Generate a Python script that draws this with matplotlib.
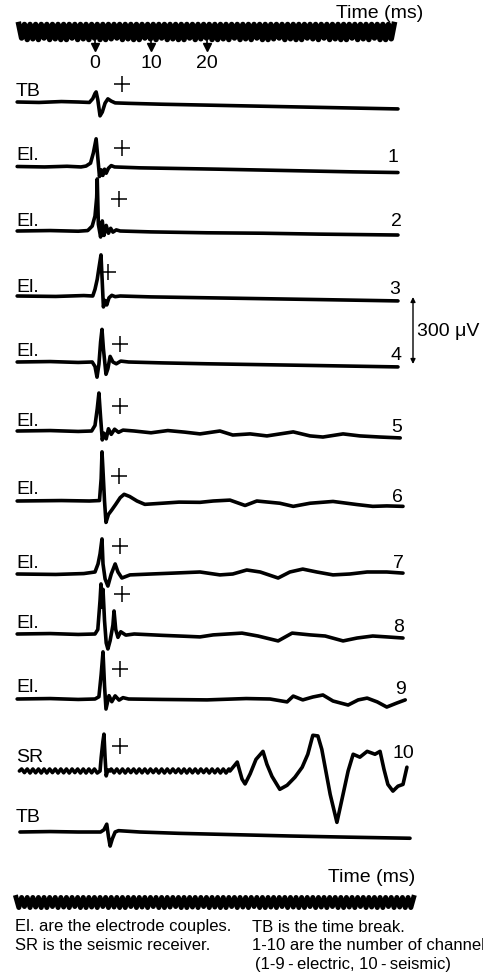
import matplotlib.pyplot as plt
import numpy as np

plt.rcParams["font.family"] = ["Liberation Sans", "DejaVu Sans"]

# ---------------- data ----------------
# 1 kHz timing clock: one cycle per ms, relative depth of every trough
clock_period_ms = 1.0
clock_top_start_ms = -13.6
clock_top_depth = [
    0.9, 1.0, 0.95, 1.0, 0.9, 1.0, 0.95, 1.0, 1.0, 0.9,
    1.0, 0.95, 1.0, 0.9, 1.0, 1.0, 0.95, 0.9, 1.0, 0.95,
    1.0, 1.0, 0.9, 0.95, 1.0, 0.9, 1.0, 0.95, 1.0, 1.0,
    0.9, 1.0, 0.95, 0.9, 1.0, 1.0, 0.95, 1.0, 0.9, 1.0,
    0.95, 1.0, 0.9, 1.0, 1.0, 0.95, 0.9, 1.0, 0.95, 1.0,
    1.0, 0.9, 0.95, 1.0, 0.9, 1.0, 0.95, 1.0, 1.0, 0.9,
    1.0, 0.95, 1.0, 0.9, 1.0, 1.0, 0.95,
]
clock_bottom_start_ms = -14.1
clock_bottom_depth = [
    1.0, 0.9, 1.0, 0.95, 1.0, 1.0, 0.9, 1.0, 0.95, 1.0,
    0.9, 1.0, 1.0, 0.95, 1.0, 0.9, 1.0, 0.95, 1.0, 1.0,
    0.9, 1.0, 0.95, 1.0, 0.9, 1.0, 1.0, 0.95, 0.9, 1.0,
    1.0, 0.95, 1.0, 0.9, 1.0, 0.95, 1.0, 1.0, 0.9, 1.0,
    0.95, 1.0, 0.9, 1.0, 1.0, 0.95, 1.0, 0.9, 1.0, 0.95,
    1.0, 1.0, 0.9, 1.0, 0.95, 1.0, 0.9, 1.0, 1.0, 0.95,
    1.0, 0.9, 1.0, 0.95, 1.0, 1.0, 0.9, 1.0, 0.95, 1.0,
    1.0,
]
time_marks_ms = [0, 10, 20]

# traces: time (ms) and amplitude (uV)
tb1_t = [-13.9, -10, -6, -3, -1.0, -0.4, 0.0, 0.2, 0.5, 0.9, 1.3, 1.8, 2.3, 2.9, 3.6, 6, 12, 20, 28, 36, 44, 50, 54.1]
tb1_uv = [0, -2, 2, 0, -2, 15, 38, 45, 10, -62, -45, -5, 14, 4, -4, -6, -10, -14, -18, -22, -26, -29, -31]

ch1_t = [-13.9, -9, -5, -2.5, -1.6, -0.8, -0.3, 0.2, 0.5, 0.8, 1.1, 1.4, 1.7, 2.0, 2.4, 2.9, 3.5, 8, 15, 22, 30, 38, 46, 54.1]
ch1_uv = [0, -2, 1, -2, 2, 15, 60, 124, 40, -45, -15, -40, -12, -30, -8, 4, -2, -6, -9, -12, -16, -20, -24, -27]

ch2_t = [-13.9, -8, -3, -1.3, -0.5, 0.0, 0.3, 0.4, 0.6, 1.0, 1.3, 1.6, 2.0, 2.4, 2.8, 3.2, 3.8, 4.5, 10, 20, 30, 40, 54.1]
ch2_uv = [0, 2, -1, 2, 22, 67, 150, 233, 30, -27, 45, -20, 25, -10, 12, -5, 5, 0, -4, -8, -10, -14, -18]

ch3_t = [-13.9, -7, -2, -0.4, 0.0, 0.4, 0.7, 1.07, 1.3, 1.5, 1.8, 2.1, 2.5, 3.0, 3.6, 4.5, 10, 20, 30, 40, 54.1]
ch3_uv = [0, -2, 2, 0, 30, 75, 125, 184, 60, -49, -20, -40, -8, 3, -3, 0, -4, -8, -12, -16, -22]

ch4_t = [-13.9, -8, -3, -0.5, 0.0, 0.36, 0.7, 1.0, 1.25, 1.5, 1.96, 2.3, 2.7, 3.2, 3.8, 4.6, 6, 12, 20, 30, 40, 54.1]
ch4_uv = [0, 2, -2, 0, -20, -68, -10, 90, 146, 60, -55, -30, 25, 0, -8, 4, 0, -4, -8, -12, -16, -22]

ch5_t = [-13.9, -8, -3, -0.6, 0.0, 0.4, 0.7, 1.0, 1.3, 1.6, 2.0, 2.4, 2.9, 3.5, 4.2, 5.0, 7.0, 10, 13, 16,
         18.75, 22.3, 24.6, 27.7, 30.7, 35.4, 38.4, 40.7, 44.3, 47.3, 50.9, 54.5]
ch5_uv = [0, 2, -2, 0, 25, 100, 170, 60, -40, -10, -35, 10, -15, 8, -6, 4, 0, -8, 2, -5,
          -13, 0, -18, -13, -22, -4, -22, -27, -13, -22, -27, -31]

ch6_t = [-13.9, -6, -1, 0.8, 1.1, 1.25, 1.4, 1.7, 1.96, 2.4, 3.0, 3.7, 4.5, 5.2, 6.2, 7.5, 8.9, 12, 15,
         18.75, 21.1, 24.1, 26.8, 28.9, 33, 35.4, 38.4, 42.5, 46.8, 49.6, 52.1, 55]
ch6_uv = [0, 2, 0, 2, 100, 220, 150, 0, -96, -60, -40, -15, 15, 30, 20, 0, -15, -10, -5,
          -6, 0, 4, -20, 0, -10, -24, -10, -2, -16, -24, -22, -24]

ch7_t = [-13.9, -7, -2, 0.0, 0.54, 0.9, 1.25, 1.43, 1.8, 2.3, 2.9, 3.6, 4.1, 4.8, 6.25, 10, 14,
         18.75, 22.3, 24.6, 27.1, 29.5, 32.7, 34.8, 37.1, 39.6, 42.5, 45.5, 48.6, 52.1, 55]
ch7_uv = [0, -2, 2, 9, 45, 90, 157, 45, -22, -54, 0, 45, 9, -18, -4, 0, 4,
          9, -4, 0, 18, 9, -18, 9, 22, 9, -4, 0, 9, 9, 4]

ch8_t = [-13.9, -8, -3, 0.0, 0.5, 0.9, 1.07, 1.25, 1.43, 1.7, 2.0, 2.3, 2.7, 3.2, 3.4, 3.7, 4.1, 4.6, 5.5, 7, 12, 16,
         18.75, 21.1, 26.25, 29.1, 32.7, 35.2, 38.4, 41.1, 44.3, 46.8, 49.6, 52.1, 55]
ch8_uv = [0, 2, -2, 0, 20, 150, 224, 120, 200, 60, -40, -67, -30, 40, 103, 20, -15, 10, -5, 0, -6, -10,
          -13, -4, 4, -9, -31, 4, -4, -9, -31, -18, -9, -13, -18]

ch9_t = [-13.9, -8, -3, 0.0, 0.7, 1.1, 1.43, 1.7, 1.96, 2.5, 3.0, 3.6, 4.3, 5.0, 6.0, 12, 20, 27,
         31.25, 34.3, 35.4, 37.1, 38.9, 40.7, 42.5, 45.2, 47, 48.6, 50.4, 52.1, 53.9, 55.4]
ch9_uv = [0, 2, -2, 0, 10, 110, 211, 60, -45, 15, -12, 14, -5, 6, 0, -2, -4, 2,
          0, -13, 13, -4, 9, 18, -9, -27, -4, 4, -13, -36, -18, -4]

sr_t = [-13.5, 0.9, 1.1, 1.4, 1.6, 1.8, 2.0, 2.3, 2.7, 24.1, 25.4, 26.25, 26.8, 27.7, 28.75, 30.0, 30.7,
        31.6, 33.0, 34.3, 35.7, 37.0, 38.0, 38.9, 39.8, 40.5, 42.0, 43.2, 44.1, 45.2, 46.1, 47.3,
        48.6, 50.0, 50.9, 51.6, 52.3, 53.2, 54.1, 55.0, 55.7]
sr_uv = [0, 0, 60, 130, 165, 60, -22, 5, 0, 0, 40, -36, -58, -13, 52, 88, 30,
         -24, -82, -64, -28, 17, 75, 160, 157, 97, -105, -230, -127, 0, 75, 62,
         88, 75, 88, 8, -60, -90, -68, -60, 17]
sr_clock_pickup_uv = 9

tb2_t = [-13.4, -8, -3, 1.0, 1.6, 2.1, 2.4, 2.7, 3.1, 3.6, 4.2, 8, 15, 25, 35, 45, 56.25]
tb2_uv = [0, 2, 0, 0, 10, 35, -20, -63, -30, 0, 6, 0, -6, -12, -18, -23, -28]

left_labels = ["TB", "El.", "El.", "El.", "El.", "El.", "El.", "El.", "El.", "El.", "SR", "TB"]
channel_numbers = ["", "1", "2", "3", "4", "5", "6", "7", "8", "9", "10", ""]

# ---------------- layout (pixels of the 483x978 picture) ----------------
W, H = 483, 978
X0_PX = 95            # x pixel of t = 0 ms
PX_PER_MS = 5.6
PX_PER_UV = 67 / 300  # 300 uV scale bar is 67 px long
LW = 2.6

base_y = [103, 167.5, 232, 297, 363, 432, 502, 575, 635, 700, 772, 833]
label_rise = [11.5, 12, 10, 10, 12, 11, 12, 12, 12, 12, 15, 16]
plus_x = [122, 122, 119, 108, 120, 120, 119, 120, 122, 120, 120]
plus_rise = [18, 19, 32, 24, 18, 25, 25, 28, 40, 30, 25]
num_x = [393, 396, 395, 396, 397, 397, 398, 399, 400, 403]
num_y = [158, 222, 289, 355, 427, 497, 563, 628, 690, 753]


def px(x):
    return (x - X0_PX) / PX_PER_MS


def clock_points(start, depth, top, bottom):
    t, y = [], []
    for i, d in enumerate(depth):
        t += [start + i * clock_period_ms, start + (i + 0.5) * clock_period_ms]
        y += [top, top + (bottom - top) * d]
    t.append(start + len(depth) * clock_period_ms)
    y.append(top)
    return np.array(t), np.array(y)


fig = plt.figure(figsize=(W / 100, H / 100), dpi=100)
ax = fig.add_axes([0, 0, 1, 1])
ax.set_xlim(px(0), px(W))
ax.set_ylim(H, 0)
ax.axis("off")

# timing clocks
t, y = clock_points(clock_top_start_ms, clock_top_depth, 25.5, 40.5)
ax.plot(t, y, color="black", lw=4.0)
t, y = clock_points(clock_bottom_start_ms, clock_bottom_depth, 898.5, 908.5)
ax.plot(t, y, color="black", lw=3.6)

for m in time_marks_ms:
    ax.plot([m, m], [40, 47], color="black", lw=1.2)
    ax.plot(m, 48, marker="v", color="black", markersize=5.5)
    ax.text(m, 64, str(m), fontsize=14, ha="center", va="center")

ax.text(px(423), 13, "Time (ms)", fontsize=14, ha="right", va="center")
ax.text(px(415), 877, "Time (ms)", fontsize=14, ha="right", va="center")

# SR gets the clock pickup ripple before the seismic arrivals
ct, cy = clock_points(clock_bottom_start_ms, clock_bottom_depth, 1, -1)
keep = (ct > sr_t[0]) & (ct < 24) & ((ct < 0.7) | (ct > 2.9))
sr_all_t = np.concatenate([sr_t, ct[keep]])
sr_all_uv = np.concatenate([sr_uv, sr_clock_pickup_uv * cy[keep]])
order = np.argsort(sr_all_t)
sr_all_t, sr_all_uv = sr_all_t[order], sr_all_uv[order]

traces = [
    (tb1_t, tb1_uv), (ch1_t, ch1_uv), (ch2_t, ch2_uv), (ch3_t, ch3_uv),
    (ch4_t, ch4_uv), (ch5_t, ch5_uv), (ch6_t, ch6_uv), (ch7_t, ch7_uv),
    (ch8_t, ch8_uv), (ch9_t, ch9_uv), (sr_all_t, sr_all_uv), (tb2_t, tb2_uv),
]

for i, (tt, uv) in enumerate(traces):
    y = base_y[i] - np.asarray(uv) * PX_PER_UV
    ax.plot(tt, y, color="black", lw=LW, solid_joinstyle="round", solid_capstyle="round")
    ax.text(px(16), base_y[i] - label_rise[i], left_labels[i], fontsize=14, ha="left", va="center")
    if i < len(plus_x):
        ax.plot(px(plus_x[i]), base_y[i] - plus_rise[i], marker="+", color="black",
                markersize=12, mew=1.1)

for i, s in enumerate(channel_numbers[1:11]):
    ax.text(px(num_x[i]), num_y[i], s, fontsize=14, ha="center", va="center")

# 300 uV scale bar
ax.annotate("", xy=(px(413), 298), xytext=(px(413), 365),
            arrowprops=dict(arrowstyle="<|-|>", color="black", lw=1.0,
                            mutation_scale=7, shrinkA=0, shrinkB=0))
ax.text(px(417), 331, "300 \u03bcV", fontsize=14, ha="left", va="center")

# notes (the last line runs off the right edge, as in the original figure)
ax.text(px(15), 927, "El. are the electrode couples.", fontsize=12, va="center")
ax.text(px(15), 946, "SR is the seismic receiver.", fontsize=12, va="center")
ax.text(px(252), 927, "TB is the time break.", fontsize=12, va="center")
ax.text(px(252), 946, "1-10 are the number of channels", fontsize=12, va="center")
ax.text(px(255), 964, "(1-9\u2009-\u2009electric, 10\u2009-\u2009seismic)", fontsize=12, va="center")

fig.savefig("out.png", dpi=100)
